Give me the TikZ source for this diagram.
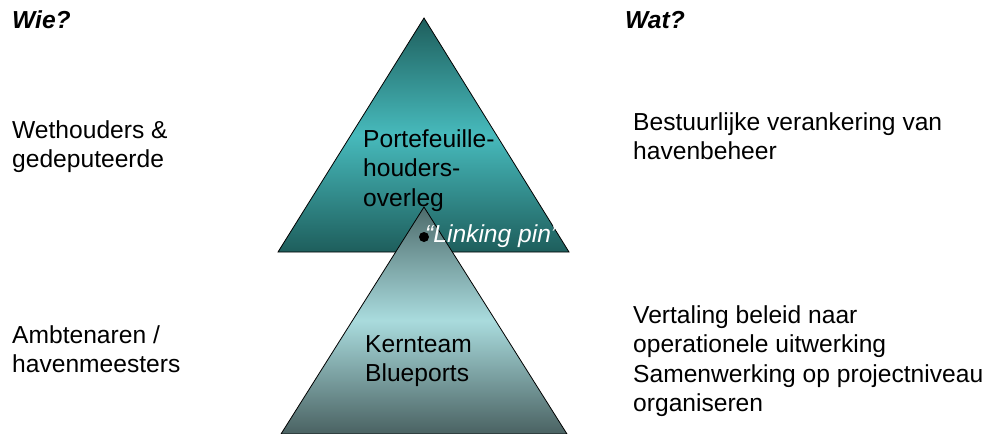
\documentclass[tikz,border=0pt]{standalone}
\usepackage{fontspec}
\setmainfont{Liberation Sans}
\definecolor{tdark}{HTML}{1E5E5C}
\definecolor{tlight}{HTML}{47BABC}
\definecolor{bdark}{HTML}{4E6C6C}
\definecolor{blight}{HTML}{A9DBDD}
\definecolor{bbot}{HTML}{4A6262}
\begin{document}
\begin{tikzpicture}[x=1pt,y=-1pt,
  txt/.style={anchor=base west,inner sep=0pt,align=left,font=\fontsize{24.6}{29.5}\selectfont},
  head/.style={txt,font=\fontsize{24.6}{29.5}\selectfont\bfseries\itshape},
  tri/.style={draw=black,line width=0.8pt,line join=miter}]
\useasboundingbox (0,0) rectangle (986,434);
% top triangle
\coordinate (ta) at (424,18);
\coordinate (tl) at (278,252);
\coordinate (tr) at (569,252);
\path[tri,top color=tdark,bottom color=tdark,middle color=tlight] (ta) -- (tl) -- (tr) -- cycle;
% bottom triangle
\coordinate (ba) at (424,207);
\coordinate (bl) at (281,434);
\coordinate (br) at (567,434);
\path[tri,top color=bdark,bottom color=bbot,middle color=blight] (ba) -- (bl) -- (br) -- cycle;
% texts (anchor = baseline of last line)
\node[head] (wie) at (12,28) {Wie?};
\node[head] (wat) at (625,28) {Wat?};
\node[txt] (weth) at (12,167.5) {Wethouders \&\\gedeputeerde};
\node[txt] (amb) at (12,372.5) {Ambtenaren /\\havenmeesters};
\node[txt] (best) at (633,159.5) {Bestuurlijke verankering van\\havenbeheer};
\node[txt] (vert) at (633,411.5) {Vertaling beleid naar\\operationele uitwerking\\Samenwerking op projectniveau\\organiseren};
\node[txt] (port) at (363,206) {Portefeuille-\\houders-\\overleg};
\node[txt] (kern) at (365,381.5) {Kernteam\\Blueports};
\fill[black] (424,237) circle (5) coordinate (pin);
\node[txt,text=white,font=\fontsize{24.6}{29.5}\selectfont\itshape] (link) at (425,242) {“Linking pin”};
\end{tikzpicture}
\end{document}
